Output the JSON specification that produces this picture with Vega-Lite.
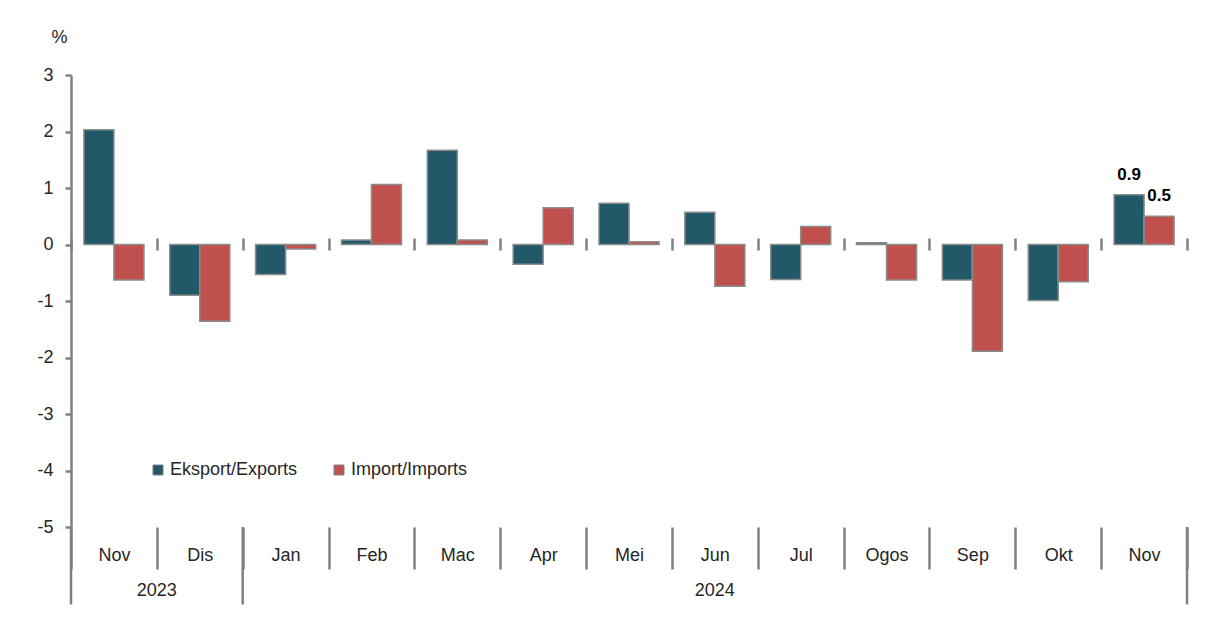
{
  "$schema": "https://vega.github.io/schema/vega-lite/v6.json",
  "width": 1116,
  "height": 452,
  "padding": {"left": 36, "top": 28, "right": 22, "bottom": 5},
  "background": "white",
  "config": {
    "view": {"stroke": null},
    "font": "Liberation Sans",
    "text": {"font": "Liberation Sans"}
  },
  "datasets": {
    "trade": [
      {"month": "Nov 2023", "series": "Eksport/Exports", "value": 2.03},
      {"month": "Nov 2023", "series": "Import/Imports", "value": -0.63},
      {"month": "Dis 2023", "series": "Eksport/Exports", "value": -0.9},
      {"month": "Dis 2023", "series": "Import/Imports", "value": -1.36},
      {"month": "Jan 2024", "series": "Eksport/Exports", "value": -0.53},
      {"month": "Jan 2024", "series": "Import/Imports", "value": -0.08},
      {"month": "Feb 2024", "series": "Eksport/Exports", "value": 0.08},
      {"month": "Feb 2024", "series": "Import/Imports", "value": 1.06},
      {"month": "Mac 2024", "series": "Eksport/Exports", "value": 1.67},
      {"month": "Mac 2024", "series": "Import/Imports", "value": 0.08},
      {"month": "Apr 2024", "series": "Eksport/Exports", "value": -0.35},
      {"month": "Apr 2024", "series": "Import/Imports", "value": 0.65},
      {"month": "Mei 2024", "series": "Eksport/Exports", "value": 0.73},
      {"month": "Mei 2024", "series": "Import/Imports", "value": 0.05},
      {"month": "Jun 2024", "series": "Eksport/Exports", "value": 0.57},
      {"month": "Jun 2024", "series": "Import/Imports", "value": -0.74},
      {"month": "Jul 2024", "series": "Eksport/Exports", "value": -0.62},
      {"month": "Jul 2024", "series": "Import/Imports", "value": 0.32},
      {"month": "Ogos 2024", "series": "Eksport/Exports", "value": 0.03},
      {"month": "Ogos 2024", "series": "Import/Imports", "value": -0.63},
      {"month": "Sep 2024", "series": "Eksport/Exports", "value": -0.63},
      {"month": "Sep 2024", "series": "Import/Imports", "value": -1.89},
      {"month": "Okt 2024", "series": "Eksport/Exports", "value": -0.99},
      {"month": "Okt 2024", "series": "Import/Imports", "value": -0.66},
      {"month": "Nov 2024", "series": "Eksport/Exports", "value": 0.88},
      {"month": "Nov 2024", "series": "Import/Imports", "value": 0.5}
    ]
  },
  "resolve": {"axis": {"x": "independent"}},
  "layer": [
    {
      "data": {"name": "trade"},
      "mark": {"type": "bar", "stroke": "#8c8c8c", "strokeWidth": 1.5},
      "encoding": {
        "x": {
          "field": "month", "type": "nominal", "sort": null,
          "scale": {
            "domain": ["Nov 2023", "Dis 2023", "Jan 2024", "Feb 2024", "Mac 2024", "Apr 2024", "Mei 2024", "Jun 2024", "Jul 2024", "Ogos 2024", "Sep 2024", "Okt 2024", "Nov 2024"],
            "paddingInner": 0, "paddingOuter": 0
          },
          "axis": {
            "orient": "bottom", "title": null, "domain": false,
            "tickBand": "extent", "tickSize": 42, "tickWidth": 2.5, "tickColor": "#808080",
            "labelExpr": "split(datum.label, ' ')[0]", "labelAngle": 0,
            "labelPadding": -14, "labelFontSize": 18, "labelColor": "#262626",
            "labelBaseline": "middle"
          }
        },
        "xOffset": {
          "field": "series", "type": "nominal", "sort": ["Eksport/Exports", "Import/Imports"],
          "scale": {"paddingInner": 0, "paddingOuter": 0.43}
        },
        "y": {
          "field": "value", "type": "quantitative",
          "scale": {"domain": [-5, 3], "nice": false, "zero": false},
          "axis": {
            "values": [-5, -4, -3, -2, -1, 0, 1, 2, 3], "grid": false,
            "labelExpr": "datum.value < 0 ? '-' + abs(datum.value) : '' + datum.value",
            "domainColor": "#808080", "domainWidth": 2.5,
            "tickColor": "#808080", "tickWidth": 2.5, "tickSize": 6,
            "labelFontSize": 18, "labelColor": "#262626", "labelPadding": 12,
            "title": "%", "titleAngle": 0, "titleX": -12, "titleY": -38,
            "titleAlign": "center", "titleBaseline": "middle",
            "titleFontSize": 18, "titleFontWeight": "normal", "titleColor": "#262626"
          }
        },
        "color": {
          "field": "series", "type": "nominal",
          "scale": {"domain": ["Eksport/Exports", "Import/Imports"], "range": ["#215968", "#C0504D"]},
          "legend": {
            "title": null, "orient": "none", "legendX": 78, "legendY": 386,
            "direction": "horizontal", "symbolType": "square", "symbolSize": 100,
            "symbolStrokeColor": "#808080", "symbolStrokeWidth": 1,
            "labelFontSize": 18, "labelColor": "#262626",
            "columnPadding": 32, "symbolOffset": 0, "labelOffset": 3
          }
        }
      }
    },
    {
      "mark": {"type": "rule", "color": "#808080", "strokeWidth": 3},
      "encoding": {"y": {"datum": 0, "type": "quantitative"}}
    },
    {
      "data": {"name": "trade"},
      "transform": [{"filter": "datum.month == 'Nov 2024'"}],
      "mark": {"type": "text", "baseline": "bottom", "dy": -11, "fontSize": 17, "fontWeight": "bold", "color": "#000000"},
      "encoding": {
        "x": {
          "field": "month", "type": "nominal", "sort": null,
          "axis": {
            "orient": "top", "offset": -175, "title": null, "labels": false, "domain": false,
            "tickBand": "extent", "tickSize": 12, "tickWidth": 2.5, "tickColor": "#808080"
          }
        },
        "xOffset": {"field": "series", "type": "nominal", "sort": ["Eksport/Exports", "Import/Imports"]},
        "y": {"field": "value", "type": "quantitative"},
        "text": {"field": "value", "type": "quantitative", "format": ".1f"}
      }
    },
    {
      "data": {"values": [{"month": "Nov 2023", "year": "2023"}]},
      "mark": {"type": "text", "fontSize": 18, "color": "#262626", "baseline": "middle"},
      "encoding": {
        "x": {"field": "month", "type": "nominal", "sort": null, "bandPosition": 1, "axis": null},
        "y": {"datum": -6.13, "type": "quantitative"},
        "text": {"field": "year"}
      }
    },
    {
      "data": {"values": [{"month": "Jun 2024", "year": "2024"}]},
      "mark": {"type": "text", "fontSize": 18, "color": "#262626", "baseline": "middle"},
      "encoding": {
        "x": {"field": "month", "type": "nominal", "sort": null, "bandPosition": 0.5, "axis": null},
        "y": {"datum": -6.13, "type": "quantitative"},
        "text": {"field": "year"}
      }
    },
    {
      "data": {"values": [{"month": "Nov 2023"}, {"month": "Jan 2024"}]},
      "mark": {"type": "rule", "color": "#808080", "strokeWidth": 2.5},
      "encoding": {
        "x": {"field": "month", "type": "nominal", "sort": null, "bandPosition": 0, "axis": null},
        "y": {"datum": -5, "type": "quantitative"},
        "y2": {"datum": -6.37}
      }
    },
    {
      "data": {"values": [{"month": "Nov 2024"}]},
      "mark": {"type": "rule", "color": "#808080", "strokeWidth": 2.5},
      "encoding": {
        "x": {"field": "month", "type": "nominal", "sort": null, "bandPosition": 1, "axis": null},
        "y": {"datum": -5, "type": "quantitative"},
        "y2": {"datum": -6.37}
      }
    }
  ]
}
